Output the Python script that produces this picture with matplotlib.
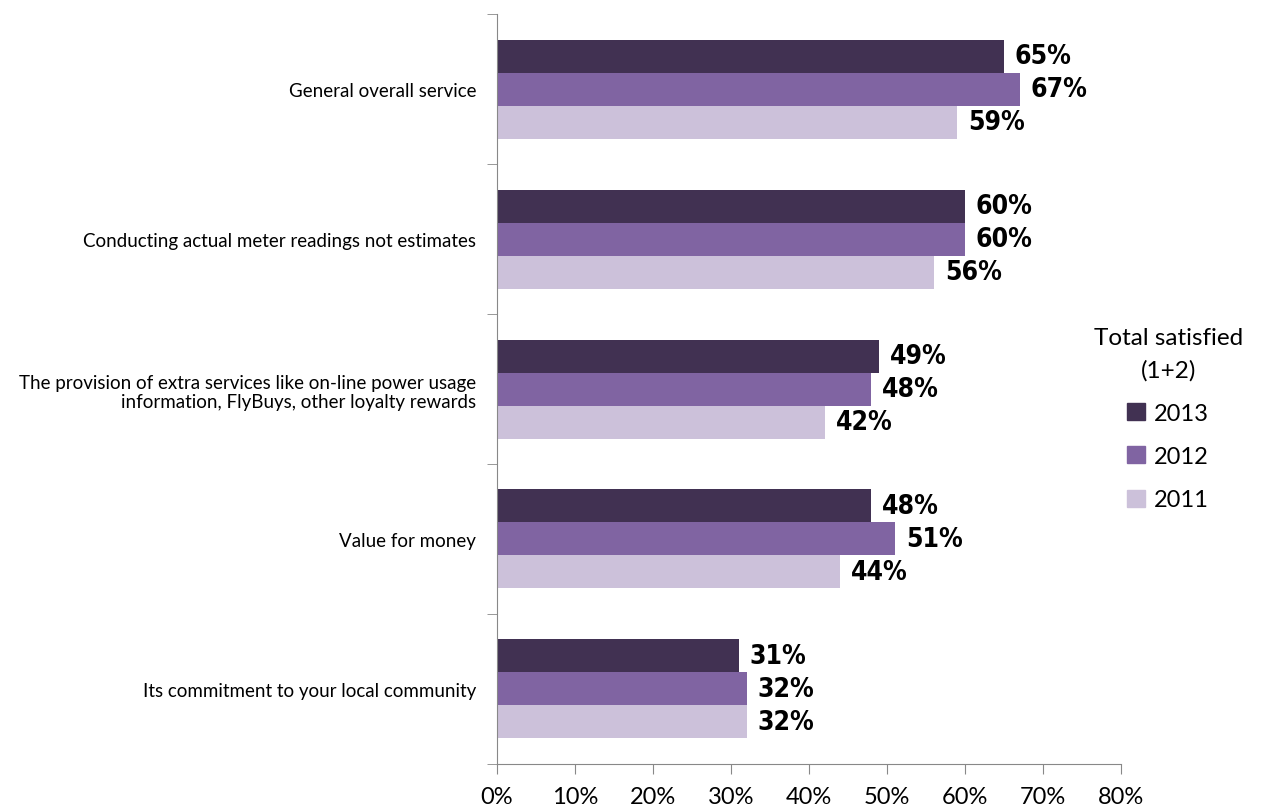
import numpy as np
import matplotlib.pyplot as plt
from matplotlib.patches import Patch
from matplotlib import font_manager

categories = [
    "General overall service",
    "Conducting actual meter readings not estimates",
    "The provision of extra services like on-line power usage\ninformation, FlyBuys, other loyalty rewards",
    "Value for money",
    "Its commitment to your local community",
]
years = ["2013", "2012", "2011"]
vals_2013 = [65, 60, 49, 48, 31]
vals_2012 = [67, 60, 48, 51, 32]
vals_2011 = [59, 56, 42, 44, 32]
colors = ["#413152", "#8064A2", "#CCC1DA"]

names = {f.name for f in font_manager.fontManager.ttflist}
narrow = [f for f in ["Liberation Sans Narrow", "DejaVu Sans Condensed"] if f in names]
label_font = narrow + ["DejaVu Sans"]
text_font = ["Lato", "DejaVu Sans"]

fig = plt.figure(figsize=(12.63, 8.12), dpi=100)
ax = fig.add_axes([0.3935, 0.0579, 0.4941, 0.9236])

n = len(categories)
y = np.arange(n)
h = 0.22
series = [vals_2013, vals_2012, vals_2011]
for i, (vals, c, yr) in enumerate(zip(series, colors, years)):
    pos = y + (i - 1) * h
    bars = ax.barh(pos, vals, height=h, color=c, label=yr)
    for b, v in zip(bars, vals):
        ax.text(v + 1.4, b.get_y() + b.get_height() / 2, f"{v}%",
                va="center", ha="left", fontsize=19, fontweight="bold",
                fontstretch="condensed", family=label_font, color="black")

ax.set_xlim(0, 80)
ax.set_ylim(n - 0.5, -0.5)
ax.set_xticks(range(0, 81, 10))
ax.set_xticklabels([f"{t}%" for t in range(0, 81, 10)], fontsize=17, family=text_font)
ax.set_yticks(y)
ax.set_yticklabels(categories, fontsize=13.5, family=text_font, ha="right")
ax.tick_params(axis="y", which="major", length=0, pad=15)
ax.set_yticks(np.arange(-0.5, n, 1), minor=True)
ax.tick_params(axis="y", which="minor", length=7, color="#888888")
ax.tick_params(axis="x", length=7, color="#888888", pad=9)
for s in ["top", "right"]:
    ax.spines[s].set_visible(False)
for s in ["left", "bottom"]:
    ax.spines[s].set_color("#888888")

handles = [Patch(color=c) for c in colors]
leg = fig.legend(handles, years, loc="center", bbox_to_anchor=(0.925, 0.483),
                 title="Total satisfied\n(1+2)", frameon=False,
                 prop={"family": text_font, "size": 17},
                 handlelength=0.75, handleheight=0.75, handletextpad=0.4,
                 labelspacing=0.95)
leg.get_title().set_fontsize(17.5)
leg.get_title().set_family(text_font)
leg.get_title().set_multialignment("center")
leg.get_title().set_linespacing(1.6)

fig.savefig("out.png", dpi=100)
